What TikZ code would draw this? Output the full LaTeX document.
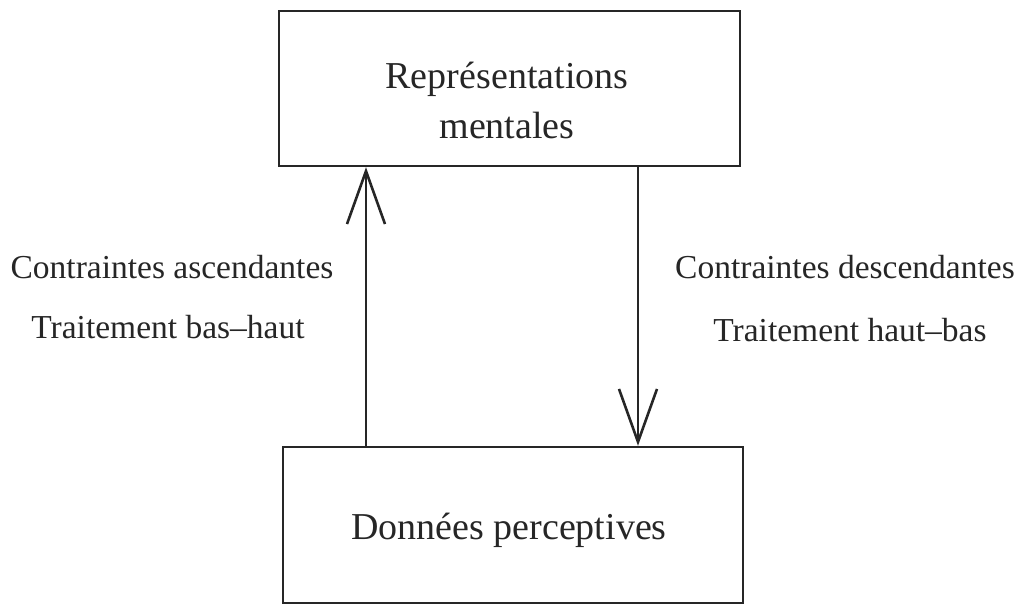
\documentclass[tikz,border=0pt]{standalone}
\usepackage{fontspec}
\setmainfont{Liberation Serif}
\usetikzlibrary{arrows.meta}
\begin{document}
\begin{tikzpicture}[x=1pt,y=-1pt,
  boxline/.style={draw=black!85, line width=2.4pt},
  flow/.style={draw=black!85, line width=2.2pt,
    -{Straight Barb[length=53pt,width=38pt,line width=2.6pt]}},
  boxtext/.style={font=\fontsize{38}{50}\selectfont, align=center, text=black!85},
  sidetext/.style={font=\fontsize{33.5}{40}\selectfont, text=black!85}]
  \useasboundingbox (0,0) rectangle (1023,605);
  % the two boxes
  \node[boxline, minimum width=461pt, minimum height=155pt, inner sep=0pt] (top) at (509.5,88.5) {};
  \node[boxline, minimum width=460pt, minimum height=156pt, inner sep=0pt] (bot) at (513,525) {};
  \node[boxtext] (toptxt) at (507,100) {Représentations\\mentales};
  \node[boxtext] (bottxt) at (509,530) {Données perceptives};
  % connectors
  \coordinate (upstart) at (top.south -| 366,0);
  \draw[flow] (bot.north -| 366,0) -- (top.south -| 366,0);
  \draw[flow] (top.south -| 638,0) -- (bot.north -| 638,0);
  % side labels
  \node[sidetext] (lab1) at (172,267) {Contraintes ascendantes};
  \node[sidetext] (lab2) at (168,327) {Traitement bas–haut};
  \node[sidetext] (lab3) at (845,267) {Contraintes descendantes};
  \node[sidetext] (lab4) at (850,330) {Traitement haut–bas};
\end{tikzpicture}
\end{document}
